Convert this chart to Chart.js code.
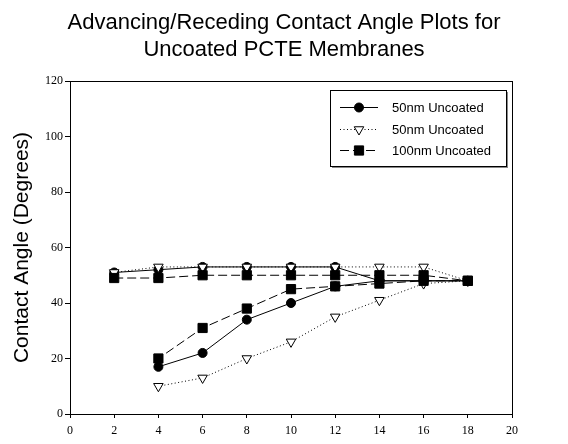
<!DOCTYPE html>
<html>
<head>
<meta charset="utf-8">
<script src="https://cdn.jsdelivr.net/npm/chart.js@4/dist/chart.umd.min.js"></script>
<style>
  html, body { margin: 0; padding: 0; background: #fff; }
  #wrap { width: 568px; height: 444px; }
</style>
</head>
<body>
<div id="wrap"><canvas id="angleChart" width="568" height="444"></canvas></div>
<script>
// advancing runs (upper) and receding runs (lower)
var advX = [2, 4, 6, 8, 10, 12, 14, 16, 18];
var recX = [4, 6, 8, 10, 12, 14, 16, 18];

var circleAdv = [51, 52, 53, 53, 53, 53, 48, 48, 48];
var circleRec = [17, 22, 34, 40, 46, 48, 48, 48];

var triAdv = [51, 53, 53, 53, 53, 53, 53, 53, 48];
var triRec = [10, 13, 20, 26, 35, 41, 47, 48];

var squareAdv = [49, 49, 50, 50, 50, 50, 50, 50, 48];
var squareRec = [20, 31, 38, 45, 46, 47, 48, 48];

var seriesNames = ['50nm Uncoated', '50nm Uncoated', '100nm Uncoated'];
var xTicks = [0, 2, 4, 6, 8, 10, 12, 14, 16, 18, 20];
var yTicks = [0, 20, 40, 60, 80, 100, 120];

// one loop per series: go out along the advancing run, come back along the receding one
function loop(adv, rec) {
    var pts = [];
    advX.forEach(function (x, i) { pts.push({ x: x, y: adv[i] }); });
    for (var i = recX.length - 1; i >= 0; i--) {
        pts.push({ x: recX[i], y: rec[i] });
    }
    return pts;
}

var sansFont = "'Liberation Sans', Arial, sans-serif";
var serifFont = "'Liberation Serif', 'Times New Roman', serif";

// legend box drawn by hand so that every entry shows line + marker
var boxLegend = {
    id: 'boxLegend',
    afterDraw: function (chart) {
        var ctx = chart.ctx;
        var x = 330, y = 90, w = 176, h = 76;
        ctx.save();
        ctx.fillStyle = '#888';
        ctx.fillRect(x + 2, y + 2, w, h);
        ctx.fillStyle = '#fff';
        ctx.fillRect(x, y, w, h);
        ctx.strokeStyle = '#000';
        ctx.lineWidth = 1;
        ctx.strokeRect(x + 0.5, y + 0.5, w, h);

        var rows = [y + 17, y + 39, y + 60];
        chart.data.datasets.forEach(function (ds, i) {
            var ry = rows[i];
            ctx.strokeStyle = '#000';
            ctx.lineWidth = 1;
            ctx.setLineDash(ds.borderDash || []);
            ctx.beginPath();
            ctx.moveTo(x + 10, ry + 0.5);
            ctx.lineTo(x + 48, ry + 0.5);
            ctx.stroke();
            ctx.setLineDash([]);
            ctx.fillStyle = ds.pointBackgroundColor;
            ctx.strokeStyle = '#000';
            ctx.lineWidth = 1;
            Chart.helpers.drawPoint(ctx, {
                pointStyle: ds.pointStyle,
                radius: ds.pointRadius,
                rotation: ds.pointRotation || 0,
                borderWidth: 1
            }, x + 29, ry + 0.5);
            ctx.fillStyle = '#000';
            ctx.font = '13px ' + sansFont;
            ctx.textBaseline = 'middle';
            ctx.textAlign = 'left';
            ctx.fillText(ds.label, x + 62, ry + 1);
        });
        ctx.restore();
    }
};

// full frame round the plot area
var frame = {
    id: 'frame',
    beforeDatasetsDraw: function (chart) {
        var a = chart.chartArea, ctx = chart.ctx;
        ctx.save();
        ctx.strokeStyle = '#000';
        ctx.lineWidth = 1;
        ctx.strokeRect(Math.round(a.left) + 0.5, Math.round(a.top) + 0.5,
            Math.round(a.right - a.left), Math.round(a.bottom - a.top));
        ctx.restore();
    }
};

var ctx = document.getElementById('angleChart').getContext('2d');
var angleChart = new Chart(ctx, {
    type: 'scatter',
    data: {
        datasets: [{
            label: seriesNames[0],
            data: loop(circleAdv, circleRec),
            showLine: true,
            borderColor: '#000',
            borderWidth: 1,
            pointStyle: 'circle',
            pointRadius: 4.5,
            pointBackgroundColor: '#000',
            pointBorderColor: '#000',
            order: 3
        }, {
            label: seriesNames[1],
            data: loop(triAdv, triRec),
            showLine: true,
            borderColor: '#000',
            borderWidth: 1,
            borderDash: [1, 2.5],
            pointStyle: 'triangle',
            pointRotation: 180,
            pointRadius: 5.5,
            pointBackgroundColor: '#fff',
            pointBorderColor: '#000',
            order: 2
        }, {
            label: seriesNames[2],
            data: loop(squareAdv, squareRec),
            showLine: true,
            borderColor: '#000',
            borderWidth: 1,
            borderDash: [9, 4],
            pointStyle: 'rect',
            pointRadius: 6.5,
            pointBackgroundColor: '#000',
            pointBorderColor: '#000',
            order: 1
        }]
    },
    options: {
        responsive: false,
        animation: false,
        devicePixelRatio: 1,
        layout: { padding: 0 },
        plugins: {
            legend: { display: false },
            tooltip: { enabled: false },
            title: {
                display: true,
                text: ['Advancing/Receding Contact Angle Plots for', 'Uncoated PCTE Membranes'],
                color: '#000',
                font: { family: sansFont, size: 22, weight: 'normal', lineHeight: 1.25 },
                padding: { top: 9, bottom: 17 }
            }
        },
        scales: {
            x: {
                type: 'linear',
                min: 0,
                max: 20,
                afterBuildTicks: function (s) { s.ticks = xTicks.map(function (v) { return { value: v }; }); },
                afterFit: function (s) { s.height = 30; },
                grid: { drawOnChartArea: false, color: '#000', tickLength: 4 },
                border: { display: true, color: '#000', width: 1 },
                ticks: { color: '#000', padding: 6, maxRotation: 0, font: { family: serifFont, size: 12 } }
            },
            y: {
                type: 'linear',
                min: 0,
                max: 120,
                afterBuildTicks: function (s) { s.ticks = yTicks.map(function (v) { return { value: v }; }); },
                afterFit: function (s) { s.width = 70; },
                grid: { drawOnChartArea: false, color: '#000', tickLength: 5 },
                border: { display: true, color: '#000', width: 1 },
                ticks: { color: '#000', padding: 2, font: { family: serifFont, size: 12 } },
                title: {
                    display: true,
                    text: 'Contact Angle (Degrees)',
                    color: '#000',
                    font: { family: sansFont, size: 21, lineHeight: 1.2 },
                    padding: { top: 10, bottom: 0 }
                }
            },
            // empty right-hand strip so the title centres over the whole page
            yRight: {
                type: 'linear',
                position: 'right',
                display: true,
                min: 0,
                max: 120,
                afterFit: function (s) { s.width = 56; },
                grid: { display: false },
                border: { display: false },
                ticks: { display: false }
            }
        }
    },
    plugins: [frame, boxLegend]
});
</script>
</body>
</html>
